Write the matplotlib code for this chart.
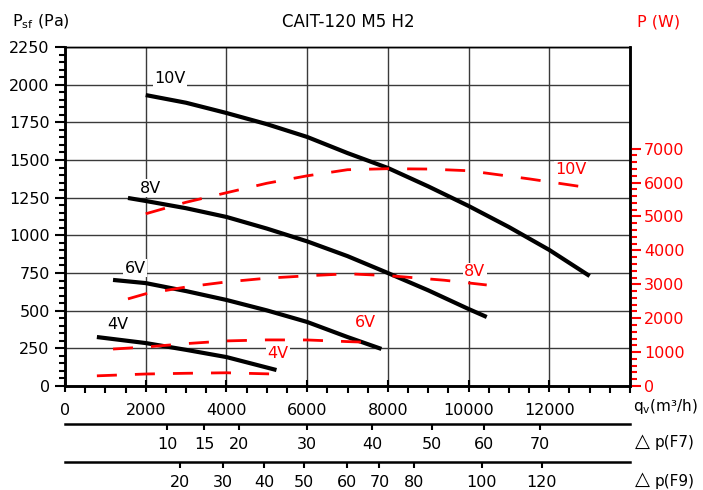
import matplotlib
matplotlib.use("Agg")
import matplotlib.pyplot as plt
from matplotlib.ticker import MultipleLocator, FixedLocator, FixedFormatter

plt.rcParams['font.family'] = ['DejaVu Sans']
plt.rcParams['lines.scale_dashes'] = False

# ---- data: static pressure curves (flow m3/h, Pa)
flow_10v = [2000, 3000, 4000, 5000, 6000, 7000, 8000, 9000, 10000, 11000, 12000, 13000]
psf_10v = [1931, 1880, 1812, 1738, 1653, 1546, 1447, 1325, 1195, 1055, 903, 730]
flow_8v = [1560, 2000, 3000, 4000, 5000, 6000, 7000, 8000, 9000, 10000, 10450]
psf_8v = [1248, 1228, 1180, 1122, 1045, 960, 862, 750, 635, 511, 458]
flow_6v = [1190, 2000, 3000, 4000, 5000, 6000, 7000, 7840]
psf_6v = [704, 683, 630, 571, 502, 425, 325, 246]
flow_4v = [790, 2000, 3000, 4000, 5240]
psf_4v = [325, 285, 240, 192, 106]

# ---- data: power curves (flow m3/h, W)
pflow_10v = [2000, 3000, 4000, 5000, 6000, 7000, 8000, 9000, 10000, 11500, 12800]
pw_10v = [5080, 5420, 5700, 5980, 6200, 6380, 6410, 6400, 6350, 6110, 5880]
pflow_8v = [1560, 2000, 3000, 4000, 5000, 6000, 7000, 8000, 9400, 10450]
pw_8v = [2570, 2720, 2920, 3070, 3180, 3250, 3310, 3257, 3120, 2980]
pflow_6v = [1190, 2000, 3000, 4000, 5000, 6000, 7000, 7500]
pw_6v = [1090, 1150, 1250, 1330, 1360, 1358, 1310, 1290]
pflow_4v = [790, 2000, 3000, 4000, 5160]
pw_4v = [300, 354, 375, 390, 354]

# ---- filter pressure-drop scales (label, flow position)
f7_labels = ['10', '15', '20', '30', '40', '50', '60', '70']
f7_flow = [2531, 3449, 4318, 6000, 7618, 9082, 10372, 11762]
f9_labels = ['20', '30', '40', '50', '60', '70', '80', '100', '120']
f9_flow = [2854, 3921, 4938, 5931, 6998, 7792, 8660, 10323, 11811]

W, H = 703, 490
fig = plt.figure(figsize=(W / 100, H / 100), dpi=100)
L, R, T, B = 65, 630, 47, 386
ax = fig.add_axes([L / W, 1 - B / H, (R - L) / W, (B - T) / H])
ax2 = ax.twinx()

RED = '#ff0000'
FS = 11.5

ax.set_xlim(0, 14000)
ax.set_ylim(0, 2250)
ax2.set_ylim(0, 10000)

ax.xaxis.set_major_locator(FixedLocator(range(0, 12001, 2000)))
ax.xaxis.set_minor_locator(MultipleLocator(500))
ax.yaxis.set_major_locator(MultipleLocator(250))
ax.yaxis.set_minor_locator(MultipleLocator(50))
ax2.yaxis.set_major_locator(FixedLocator(range(0, 7001, 1000)))
ax2.yaxis.set_minor_locator(FixedLocator(range(0, 7001, 200)))

ax.grid(True, which='major', color='#3a3a3a', lw=1.0)
ax.set_axisbelow(True)

ax.tick_params(axis='x', which='major', direction='inout', length=9, width=1.5,
               labelsize=FS, pad=8)
ax.tick_params(axis='x', which='minor', direction='out', length=5, width=1.5)
ax.tick_params(axis='y', which='major', direction='out', length=7, width=1.5,
               labelsize=FS, pad=4)
ax.tick_params(axis='y', which='minor', direction='out', length=4, width=1.5)
ax2.tick_params(axis='y', which='major', direction='out', length=8, width=1.5,
                labelsize=FS, pad=2, colors=RED)
ax2.tick_params(axis='y', which='minor', direction='out', length=5, width=1.5, colors=RED)

for sp in ['left', 'bottom', 'right']:
    ax.spines[sp].set_linewidth(1.8)
    ax2.spines[sp].set_linewidth(1.8)
ax.spines['top'].set_linewidth(1.0)
ax2.spines['top'].set_linewidth(1.0)
ax2.spines['right'].set_color('black')

# pressure curves
for fx, py in [(flow_10v, psf_10v), (flow_8v, psf_8v), (flow_6v, psf_6v), (flow_4v, psf_4v)]:
    ax.plot(fx, py, color='black', lw=3.0, solid_capstyle='butt', zorder=3)

# power curves
for fx, py in [(pflow_10v, pw_10v), (pflow_8v, pw_8v), (pflow_6v, pw_6v), (pflow_4v, pw_4v)]:
    ax2.plot(fx, py, color=RED, lw=2.0, dashes=(14.4, 13.0), dash_capstyle='butt', zorder=3)

box = dict(facecolor='white', edgecolor='none', pad=1.0)
for x, y, s in [(2605, 2044, '10V'), (2109, 1314, '8V'), (1737, 783, '6V'), (1315, 411, '4V')]:
    ax.text(x, y, s, fontsize=FS, ha='center', va='center', color='black', bbox=box, zorder=2)
for x, y, s in [(12531, 6379, '10V'), (10149, 3367, '8V'), (7444, 1861, '6V'), (5285, 945, '4V')]:
    ax2.text(x, y, s, fontsize=FS, ha='center', va='center', color=RED, bbox=box, zorder=4)

# secondary filter scales
for ypix, labels, flows in [(424, f7_labels, f7_flow), (462, f9_labels, f9_flow)]:
    a = fig.add_axes([L / W, 1 - ypix / H, (R - L) / W, 0.0001])
    a.set_xlim(0, 14000)
    a.set_yticks([])
    for sp in ['left', 'right', 'top']:
        a.spines[sp].set_visible(False)
    a.spines['bottom'].set_linewidth(1.8)
    a.patch.set_visible(False)
    a.xaxis.set_major_locator(FixedLocator(flows))
    a.xaxis.set_major_formatter(FixedFormatter(labels))
    a.tick_params(axis='x', direction='out', length=4, width=1.5, labelsize=FS, pad=5)

# texts
fig.text(12 / W, 1 - 22 / H, 'P$_{\\mathregular{sf}}$ (Pa)', fontsize=FS, ha='left', va='center')
fig.text(348 / W, 1 - 22 / H, 'CAIT-120 M5 H2', fontsize=12, ha='center', va='center')
fig.text(637 / W, 1 - 22 / H, 'P (W)', fontsize=FS, ha='left', va='center', color=RED)
fig.text(633 / W, 1 - 407 / H, 'q$_{\\mathregular{v}}$(m³/h)', fontsize=11, ha='left', va='center')
for ypix, s in [(443, 'p(F7)'), (481, 'p(F9)')]:
    fig.text(635 / W, 1 - (ypix - 2) / H, '△', fontsize=14, ha='left', va='center')
    fig.text(655 / W, 1 - ypix / H, s, fontsize=11, ha='left', va='center')

fig.savefig('out.png', dpi=100)
